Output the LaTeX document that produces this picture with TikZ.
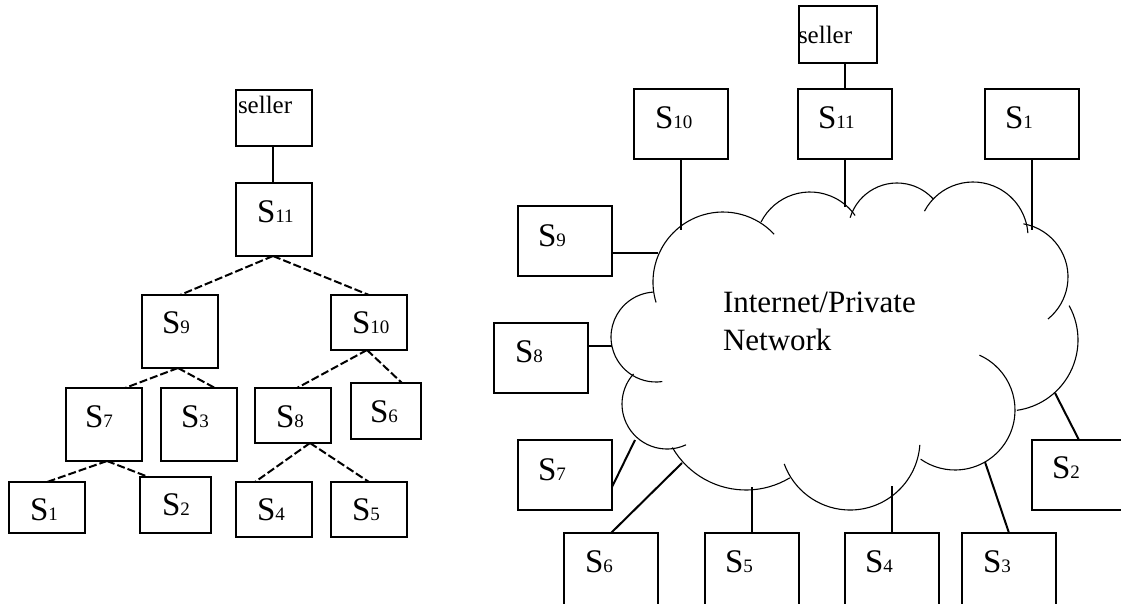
\documentclass[tikz,border=0pt]{standalone}
\usepackage{fontspec}
\setmainfont{Liberation Serif}
\newcommand\Sname[1]{S{\fontsize{19}{19}\selectfont #1}}
\tikzset{
  treebox/.style={draw, line width=2.4pt, inner sep=0pt, outer sep=0pt, anchor=north west},
  netbox/.style={draw, line width=2pt, inner sep=0pt, outer sep=0pt, anchor=north west,
                 minimum width=94pt, minimum height=70pt},
  boxtext/.style={anchor=base west, inner sep=0pt, outer sep=0pt, font=\fontsize{33}{33}\selectfont},
  sellertext/.style={anchor=base west, inner sep=0pt, outer sep=0pt, font=\fontsize{25}{25}\selectfont},
  treelink/.style={line width=2pt, dash pattern=on 8pt off 3pt},
  solidlink/.style={line width=2pt},
  cloudline/.style={line width=1.1pt},
  nettext/.style={anchor=base west, inner sep=0pt, outer sep=0pt, font=\fontsize{31}{31}\selectfont}
}
\begin{document}
\begin{tikzpicture}[x=1pt, y=-1pt]
\clip (0,0) rectangle (1121,603);
\fill[white] (0,0) rectangle (1121,603);

% ---------- tree of servers ----------
\node[treebox, minimum width=76pt, minimum height=56pt] (lsel) at (236,90) {};
\node[treebox, minimum width=76pt, minimum height=73pt] (ls11) at (236,183) {};
\node[treebox, minimum width=76pt, minimum height=73pt] (ls9)  at (142,295) {};
\node[treebox, minimum width=76pt, minimum height=55pt] (ls10) at (331,295) {};
\node[treebox, minimum width=76pt, minimum height=73pt] (ls7)  at (66,388) {};
\node[treebox, minimum width=76pt, minimum height=73pt] (ls3)  at (161,388) {};
\node[treebox, minimum width=76pt, minimum height=55pt] (ls8)  at (255,388) {};
\node[treebox, minimum width=70pt, minimum height=56pt] (ls6)  at (351,383) {};
\node[treebox, minimum width=76pt, minimum height=51pt] (ls1)  at (9,482) {};
\node[treebox, minimum width=71pt, minimum height=56pt] (ls2)  at (140,477) {};
\node[treebox, minimum width=76pt, minimum height=55pt] (ls4)  at (236,482) {};
\node[treebox, minimum width=76pt, minimum height=55pt] (ls5)  at (331,482) {};

\node[sellertext] (lselt) at ([shift={(2pt,-23pt)}]lsel.north west) {seller};
\node[boxtext] (ls11t) at ([shift={(21pt,-39pt)}]ls11.north west) {\Sname{11}};
\node[boxtext] (ls9t)  at ([shift={(20pt,-38pt)}]ls9.north west)  {\Sname{9}};
\node[boxtext] (ls10t) at ([shift={(21pt,-38pt)}]ls10.north west) {\Sname{10}};
\node[boxtext] (ls7t)  at ([shift={(19pt,-39pt)}]ls7.north west)  {\Sname{7}};
\node[boxtext] (ls3t)  at ([shift={(20pt,-39pt)}]ls3.north west)  {\Sname{3}};
\node[boxtext] (ls8t)  at ([shift={(21pt,-39pt)}]ls8.north west)  {\Sname{8}};
\node[boxtext] (ls6t)  at ([shift={(19pt,-39pt)}]ls6.north west)  {\Sname{6}};
\node[boxtext] (ls1t)  at ([shift={(21pt,-38pt)}]ls1.north west)  {\Sname{1}};
\node[boxtext] (ls2t)  at ([shift={(22pt,-38pt)}]ls2.north west)  {\Sname{2}};
\node[boxtext] (ls4t)  at ([shift={(21pt,-38pt)}]ls4.north west)  {\Sname{4}};
\node[boxtext] (ls5t)  at ([shift={(21pt,-38pt)}]ls5.north west)  {\Sname{5}};

\draw[solidlink] ([xshift=-1pt]lsel.south) -- ([xshift=-1pt]ls11.north);
\draw[treelink] ([xshift=-1pt]ls11.south) -- (ls9.north);
\draw[treelink] ([xshift=-1pt]ls11.south) -- (ls10.north);
\draw[treelink] ([xshift=-2pt]ls9.south) -- ([xshift=21pt]ls7.north);
\draw[treelink] ([xshift=-2pt]ls9.south) -- ([xshift=16pt]ls3.north);
\draw[treelink] ([xshift=-2pt]ls10.south) -- ([xshift=4pt]ls8.north);
\draw[treelink] ([xshift=-2pt]ls10.south) -- ([xshift=16pt]ls6.north);
\draw[treelink] ([xshift=3pt]ls7.south) -- (ls1.north);
\draw[treelink] ([xshift=3pt]ls7.south) -- ([xshift=-27pt]ls2.north);
\draw[treelink] ([xshift=17pt]ls8.south) -- ([xshift=-19pt]ls4.north);
\draw[treelink] ([xshift=17pt]ls8.south) -- (ls5.north);

% ---------- servers around the network cloud ----------
\draw[cloudline] (723,282)  ++(197:70pt) arc[start angle=197, end angle=43,   radius=70pt];
\draw[cloudline] (810,247)  ++(153:55pt) arc[start angle=153, end angle=35,   radius=55pt];
\draw[cloudline] (897,232)  ++(163:49pt) arc[start angle=163, end angle=42,   radius=49pt];
\draw[cloudline] (973,237)  ++(152:55pt) arc[start angle=152, end angle=4,    radius=55pt];
\draw[cloudline] (1014,277) ++(80:54pt)  arc[start angle=80,  end angle=-51,  radius=54pt];
\draw[cloudline] (1007,340) ++(29:71pt)  arc[start angle=29,  end angle=-82,  radius=71pt];
\draw[cloudline] (955,410)  ++(66:60pt)  arc[start angle=66,  end angle=-125, radius=60pt];
\draw[cloudline] (850,440)  ++(-4:70pt)  arc[start angle=-4,  end angle=-160, radius=70pt];
\draw[cloudline] (746,405)  ++(-59:85pt) arc[start angle=-59, end angle=-150, radius=85pt];
\draw[cloudline] (667,404)  ++(-65:45pt) arc[start angle=-65, end angle=-222, radius=45pt];
\draw[cloudline] (656,337)  ++(-82:45pt) arc[start angle=-82, end angle=-266, radius=45pt];

\node[nettext] (net1) at (723,312) {Internet/Private};
\node[nettext] (net2) at (723,350) {Network};

\coordinate (c10) at (681,230);
\coordinate (c11) at (845,207);
\coordinate (c1)  at (1032,230);
\coordinate (c9)  at (658,253);
\coordinate (c8)  at (612,346);
\coordinate (c7)  at (635,440);
\coordinate (c6)  at (682,463);
\coordinate (c5)  at (752,487);
\coordinate (c4)  at (892,486);
\coordinate (c3)  at (985,462);
\coordinate (c2)  at (1055,393);

\node[netbox, minimum width=78pt, minimum height=57pt] (rsel) at (799,6) {};
\node[netbox] (rs10) at (634,89) {};
\node[netbox] (rs11) at (798,89) {};
\node[netbox] (rs1)  at (985,89) {};
\node[netbox] (rs9)  at (518,206) {};
\node[netbox] (rs8)  at (494,323) {};
\node[netbox] (rs7)  at (518,440) {};
\node[netbox] (rs2)  at (1032,440) {};
\node[netbox, minimum height=76pt] (rs6) at (564,533) {};
\node[netbox, minimum height=76pt] (rs5) at (705,533) {};
\node[netbox, minimum height=76pt] (rs4) at (845,533) {};
\node[netbox, minimum height=76pt] (rs3) at (962,533) {};

\node[sellertext] (rselt) at ([shift={(-1pt,-37pt)}]rsel.north west) {seller};
\node[boxtext] (rs10t) at ([shift={(21pt,-39pt)}]rs10.north west) {\Sname{10}};
\node[boxtext] (rs11t) at ([shift={(20pt,-39pt)}]rs11.north west) {\Sname{11}};
\node[boxtext] (rs1t)  at ([shift={(20pt,-39pt)}]rs1.north west)  {\Sname{1}};
\node[boxtext] (rs9t)  at ([shift={(20pt,-40pt)}]rs9.north west)  {\Sname{9}};
\node[boxtext] (rs8t)  at ([shift={(21pt,-39pt)}]rs8.north west)  {\Sname{8}};
\node[boxtext] (rs7t)  at ([shift={(20pt,-40pt)}]rs7.north west)  {\Sname{7}};
\node[boxtext] (rs2t)  at ([shift={(20pt,-38pt)}]rs2.north west)  {\Sname{2}};
\node[boxtext] (rs6t)  at ([shift={(21pt,-39pt)}]rs6.north west)  {\Sname{6}};
\node[boxtext] (rs5t)  at ([shift={(20pt,-39pt)}]rs5.north west)  {\Sname{5}};
\node[boxtext] (rs4t)  at ([shift={(20pt,-39pt)}]rs4.north west)  {\Sname{4}};
\node[boxtext] (rs3t)  at ([shift={(21pt,-39pt)}]rs3.north west)  {\Sname{3}};

\draw[solidlink] ([xshift=7pt]rsel.south) -- (rs11.north);
\draw[solidlink] (rs10.south) -- (c10);
\draw[solidlink] (rs11.south) -- (c11);
\draw[solidlink] (rs1.south) -- (c1);
\draw[solidlink] ([yshift=-12pt]rs9.east) -- (c9);
\draw[solidlink] ([yshift=12pt]rs8.east) -- (c8);
\draw[solidlink] ([yshift=-12pt]rs7.east) -- (c7);
\draw[solidlink] (rs6.north) -- (c6);
\draw[solidlink] (rs5.north) -- (c5);
\draw[solidlink] (rs4.north) -- (c4);
\draw[solidlink] (rs3.north) -- (c3);
\draw[solidlink] (rs2.north) -- (c2);
\end{tikzpicture}
\end{document}
